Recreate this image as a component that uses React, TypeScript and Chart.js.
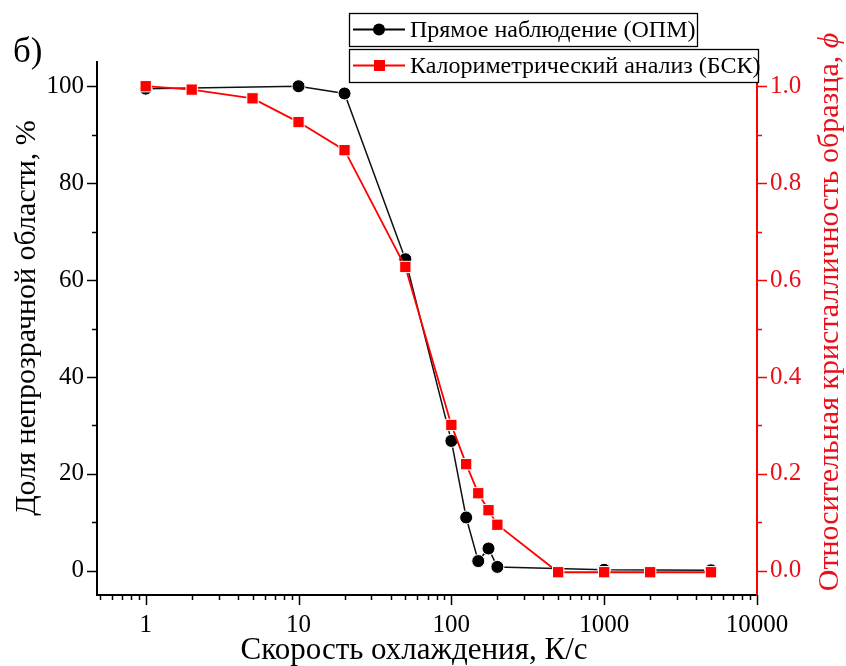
import React, { useEffect, useRef } from 'react';
import { Chart, registerables } from 'chart.js';

Chart.register(...registerables);

// ---- data ----
const rateOPM = [1, 10, 20, 50, 100, 125, 150, 175, 200, 1000, 5000];
const opmPercent = [99.5, 100, 98.5, 64.3, 26.8, 11, 2, 4.6, 0.8, 0.2, 0.1];

const rateDSC = [1, 2, 5, 10, 20, 50, 100, 125, 150, 175, 200, 500, 1000, 2000, 5000];
const dscPhi = [1.0, 0.993, 0.975, 0.926, 0.868, 0.627, 0.301, 0.22, 0.16, 0.125, 0.095, -0.003, -0.003, -0.003, -0.003];

// ---- ticks ----
const xMajorTicks = [1, 10, 100, 1000, 10000];
const xMajorLabels = ['1', '10', '100', '1000', '10000'];
const xMinorMultipliers = [2, 3, 4, 5, 6, 7, 8, 9];
const leftMajorTicks = [0, 20, 40, 60, 80, 100];
const leftMinorTicks = [10, 30, 50, 70, 90];
const rightMajorTicks = [0, 0.2, 0.4, 0.6, 0.8, 1.0];
const rightMajorLabels = ['0.0', '0.2', '0.4', '0.6', '0.8', '1.0'];
const rightMinorTicks = [0.1, 0.3, 0.5, 0.7, 0.9];

const X_MIN = 0.48;
const X_MAX = 10000;

const xMinorTicks: number[] = [];
[0.1, 1, 10, 100, 1000].forEach((d) => {
  xMinorMultipliers.forEach((m) => {
    const v = +(d * m).toPrecision(6);
    if (v > X_MIN && v < X_MAX) xMinorTicks.push(v);
  });
});
const xAllTicks = [...xMajorTicks, ...xMinorTicks].sort((a, b) => a - b);

// ---- texts ----
const panelLabel = 'б)';
const xTitle = 'Скорость охлаждения, К/с';
const yTitle = 'Доля непрозрачной области, %';
const y2Title = 'Относительная кристалличность образца, ';
const y2Symbol = 'ϕ';
const opmName = 'Прямое наблюдение (ОПМ)';
const dscName = 'Калориметрический анализ (БСК)';

const RED = '#f00';
const RED_TEXT = '#e8101a';
const SERIF = '"Liberation Serif", "Times New Roman", serif';

const decorPlugin = {
  id: 'decor',
  afterDraw(chart: any) {
    const ctx: CanvasRenderingContext2D = chart.ctx;
    const { x, y, y2 } = chart.scales;
    ctx.save();
    ctx.lineCap = 'butt';
    // x ticks
    ctx.strokeStyle = '#000';
    ctx.lineWidth = 1.5;
    xAllTicks.forEach((v) => {
      const px = Math.round(x.getPixelForValue(v)) + 0.5;
      const len = xMajorTicks.includes(v) ? 10 : 5;
      ctx.beginPath();
      ctx.moveTo(px, x.top);
      ctx.lineTo(px, x.top + len);
      ctx.stroke();
    });
    // left ticks
    [...leftMajorTicks, ...leftMinorTicks].forEach((v) => {
      const py = Math.round(y.getPixelForValue(v)) + 0.5;
      const len = leftMajorTicks.includes(v) ? 10 : 5;
      ctx.beginPath();
      ctx.moveTo(y.right, py);
      ctx.lineTo(y.right - len, py);
      ctx.stroke();
    });
    // right ticks
    ctx.strokeStyle = RED;
    [...rightMajorTicks, ...rightMinorTicks].forEach((v) => {
      const py = Math.round(y2.getPixelForValue(v)) + 0.5;
      const len = rightMajorTicks.includes(v) ? 10 : 5;
      ctx.beginPath();
      ctx.moveTo(y2.left, py);
      ctx.lineTo(y2.left + len, py);
      ctx.stroke();
    });

    // titles
    ctx.fillStyle = '#000';
    ctx.textBaseline = 'middle';
    ctx.textAlign = 'center';
    ctx.font = `31px ${SERIF}`;
    ctx.fillText(xTitle, 414, 651);

    ctx.save();
    ctx.translate(27, 318);
    ctx.rotate(-Math.PI / 2);
    ctx.font = `30px ${SERIF}`;
    ctx.fillText(yTitle, 0, 0);
    ctx.restore();

    ctx.save();
    ctx.translate(830, 312);
    ctx.rotate(-Math.PI / 2);
    ctx.fillStyle = RED_TEXT;
    ctx.textAlign = 'left';
    ctx.font = `30px ${SERIF}`;
    const w1 = ctx.measureText(y2Title).width;
    ctx.font = `italic 30px ${SERIF}`;
    const w2 = ctx.measureText(y2Symbol).width;
    const start = -(w1 + w2) / 2;
    ctx.font = `30px ${SERIF}`;
    ctx.fillText(y2Title, start, 0);
    ctx.font = `italic 30px ${SERIF}`;
    ctx.fillText(y2Symbol, start + w1, 0);
    ctx.restore();

    ctx.textAlign = 'left';
    ctx.font = `35px ${SERIF}`;
    ctx.fillText(panelLabel, 13, 53);

    // legend boxes
    const drawEntry = (bx: number, by: number, bw: number, bh: number, color: string, style: 'circle' | 'rect', label: string) => {
      ctx.fillStyle = '#fff';
      ctx.fillRect(bx, by, bw, bh);
      ctx.strokeStyle = '#000';
      ctx.lineWidth = 1.3;
      ctx.strokeRect(bx + 0.5, by + 0.5, bw, bh);
      const cy = by + bh / 2;
      ctx.strokeStyle = color;
      ctx.lineWidth = 1.8;
      ctx.beginPath();
      ctx.moveTo(bx + 4, cy);
      ctx.lineTo(bx + 56, cy);
      ctx.stroke();
      ctx.fillStyle = color;
      ctx.beginPath();
      if (style === 'circle') {
        ctx.arc(bx + 30, cy, 6, 0, Math.PI * 2);
      } else {
        ctx.rect(bx + 25, cy - 5.5, 11, 11);
      }
      ctx.fill();
      ctx.fillStyle = '#000';
      ctx.font = `24px ${SERIF}`;
      ctx.textBaseline = 'middle';
      ctx.textAlign = 'left';
      ctx.fillText(label, bx + 61, cy + 1);
    };
    drawEntry(349, 13, 348, 33, '#000', 'circle', opmName);
    drawEntry(349, 49, 409, 33, RED, 'rect', dscName);
    ctx.restore();
  },
};

export default function App() {
  const ref = useRef<HTMLCanvasElement>(null);

  useEffect(() => {
    const canvas = ref.current!;
    const tickFont = { family: SERIF, size: 25 };
    const chart = new Chart(canvas, {
      type: 'line',
      data: {
        datasets: [
          {
            label: opmName,
            data: rateOPM.map((r, i) => ({ x: r, y: opmPercent[i] })),
            yAxisID: 'y',
            borderColor: '#111',
            backgroundColor: '#000',
            borderWidth: 1.5,
            pointStyle: 'circle',
            pointRadius: 6.5,
            pointBorderColor: '#fff',
            pointBorderWidth: 1,
            pointBackgroundColor: '#000',
            tension: 0,
            order: 2,
          },
          {
            label: dscName,
            data: rateDSC.map((r, i) => ({ x: r, y: dscPhi[i] })),
            yAxisID: 'y2',
            borderColor: RED,
            backgroundColor: RED,
            borderWidth: 1.8,
            pointStyle: 'rect',
            pointRadius: 8,
            pointBorderColor: '#fff',
            pointBorderWidth: 1,
            pointBackgroundColor: RED,
            tension: 0,
            order: 1,
          },
        ],
      },
      options: {
        animation: false,
        responsive: false,
        devicePixelRatio: 1,
        layout: { padding: { top: 62, left: 0, right: 0, bottom: 0 } },
        plugins: { legend: { display: false }, tooltip: { enabled: false } },
        scales: {
          x: {
            type: 'logarithmic',
            position: 'bottom',
            min: X_MIN,
            max: X_MAX,
            afterBuildTicks: (s: any) => {
              s.ticks = xAllTicks.map((v) => ({ value: v }));
            },
            afterFit: (s: any) => {
              s.height = 71;
            },
            ticks: {
              autoSkip: false,
              maxRotation: 0,
              minRotation: 0,
              padding: 5,
              color: '#000',
              font: tickFont,
              callback: (v: any) => {
                const idx = xMajorTicks.indexOf(Number(v));
                return idx >= 0 ? xMajorLabels[idx] : '';
              },
            },
            grid: { drawOnChartArea: false, drawTicks: true, tickLength: 10, tickColor: 'rgba(0,0,0,0)' },
            border: { display: true, color: '#000', width: 2 },
          },
          y: {
            type: 'linear',
            position: 'left',
            min: -5,
            max: 105,
            afterBuildTicks: (s: any) => {
              s.ticks = leftMajorTicks.map((v) => ({ value: v }));
            },
            afterFit: (s: any) => {
              s.width = 97;
            },
            ticks: {
              autoSkip: false,
              padding: 3,
              color: '#000',
              font: tickFont,
              callback: (v: any) => String(v),
            },
            grid: { drawOnChartArea: false, drawTicks: true, tickLength: 10, tickColor: 'rgba(0,0,0,0)' },
            border: { display: true, color: '#000', width: 2 },
          },
          y2: {
            type: 'linear',
            position: 'right',
            min: -0.05,
            max: 1.05,
            afterBuildTicks: (s: any) => {
              s.ticks = rightMajorTicks.map((v) => ({ value: v }));
            },
            afterFit: (s: any) => {
              s.width = 89;
            },
            ticks: {
              autoSkip: false,
              padding: 3,
              color: RED_TEXT,
              font: tickFont,
              callback: (v: any) => {
                const idx = rightMajorTicks.findIndex((t) => Math.abs(t - Number(v)) < 1e-9);
                return idx >= 0 ? rightMajorLabels[idx] : '';
              },
            },
            grid: { drawOnChartArea: false, drawTicks: true, tickLength: 10, tickColor: 'rgba(0,0,0,0)' },
            border: { display: true, color: RED, width: 2 },
          },
        },
      } as any,
      plugins: [decorPlugin],
    } as any);
    return () => chart.destroy();
  }, []);

  return (
    <div style={{ position: 'absolute', left: 0, top: 0, width: 846, height: 666, background: '#fff' }}>
      <canvas ref={ref} width={846} height={666} style={{ display: 'block', width: 846, height: 666 }} />
    </div>
  );
}
